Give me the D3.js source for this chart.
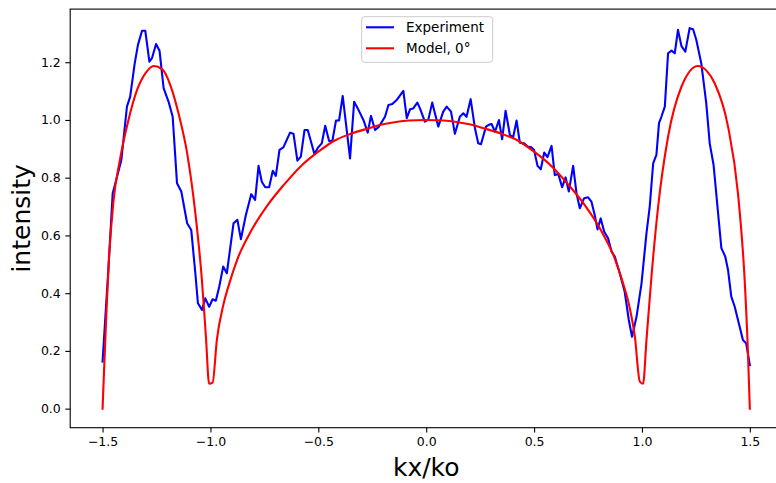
<!DOCTYPE html>
<html>
<head>
<meta charset="utf-8">
<script src="https://cdn.jsdelivr.net/npm/d3@7"></script>
<style>
  html, body { margin: 0; padding: 0; background: #fff; }
  svg { display: block; font-family: "DejaVu Sans", sans-serif; }
</style>
</head>
<body>
<svg id="chart" width="776" height="483"></svg>
<script>
// Measured angular intensity profile (kx/ko) and the model curve at 0°
const expX = [
  -1.500, -1.475, -1.453, -1.441, -1.413, -1.387, -1.372, -1.351, -1.336, -1.317,
  -1.302, -1.283, -1.271, -1.252, -1.236, -1.217, -1.194, -1.175, -1.155, -1.135,
  -1.108, -1.089, -1.070, -1.058, -1.039, -1.024, -1.006, -0.990, -0.975, -0.959,
  -0.941, -0.924, -0.893, -0.875, -0.859, -0.836, -0.811, -0.793, -0.777, -0.762,
  -0.746, -0.728, -0.711, -0.697, -0.680, -0.662, -0.631, -0.615, -0.597, -0.581,
  -0.564, -0.549, -0.518, -0.502, -0.484, -0.468, -0.450, -0.435, -0.418, -0.404,
  -0.387, -0.353, -0.334, -0.314, -0.291, -0.271, -0.256, -0.237, -0.219, -0.191,
  -0.175, -0.157, -0.137, -0.106, -0.090, -0.075, -0.060, -0.041, -0.029, -0.006,
   0.010,  0.028,  0.056,  0.079,  0.095,  0.115,  0.133,  0.156,  0.172,  0.187,
   0.206,  0.226,  0.241,  0.254,  0.277,  0.290,  0.303,  0.319,  0.337,  0.352,
   0.368,  0.388,  0.403,  0.419,  0.434,  0.454,  0.470,  0.488,  0.500,  0.516,
   0.531,  0.547,  0.562,  0.581,  0.596,  0.612,  0.630,  0.646,  0.661,  0.681,
   0.697,  0.712,  0.732,  0.750,  0.766,  0.781,  0.794,  0.809,  0.825,  0.843,
   0.859,  0.874,  0.897,  0.920,  0.939,  0.954,  0.975,  0.998,  1.021,  1.036,
   1.052,  1.067,  1.079,  1.090,  1.106,  1.121,  1.137,  1.152,  1.167,  1.183,
   1.201,  1.221,  1.237,  1.252,  1.275,  1.298,  1.314,  1.332,  1.368,  1.386,
   1.399,  1.414,  1.430,  1.468,  1.483,  1.500
];
const expY = [
  0.163, 0.460, 0.746, 0.780, 0.861, 1.046, 1.081, 1.196, 1.260, 1.309,
  1.309, 1.202, 1.214, 1.263, 1.240, 1.110, 1.063, 1.011, 0.781, 0.752,
  0.642, 0.619, 0.469, 0.365, 0.342, 0.382, 0.353, 0.379, 0.374, 0.423,
  0.492, 0.469, 0.642, 0.654, 0.587, 0.670, 0.743, 0.723, 0.841, 0.786,
  0.767, 0.767, 0.824, 0.806, 0.896, 0.905, 0.956, 0.952, 0.859, 0.873,
  0.965, 0.965, 0.882, 0.904, 0.919, 0.980, 0.927, 0.927, 0.998, 0.998,
  1.083, 0.867, 1.063, 1.035, 1.000, 0.956, 1.014, 0.965, 0.977, 1.011,
  1.052, 1.055, 1.069, 1.101, 1.006, 1.037, 1.040, 1.060, 1.040, 0.994,
  1.002, 1.060, 0.977, 1.029, 1.046, 1.029, 0.952, 1.011, 1.023, 1.011,
  1.072, 0.971, 0.919, 0.916, 0.977, 0.983, 0.986, 0.959, 1.000, 0.933,
  1.032, 0.948, 0.940, 0.998, 0.921, 0.919, 0.908, 0.905, 0.896, 0.841,
  0.829, 0.887, 0.871, 0.910, 0.809, 0.813, 0.767, 0.801, 0.752, 0.841,
  0.744, 0.694, 0.729, 0.732, 0.717, 0.671, 0.621, 0.659, 0.613, 0.590,
  0.544, 0.527, 0.469, 0.405, 0.307, 0.249, 0.319, 0.434, 0.608, 0.700,
  0.850, 0.879, 0.989, 1.011, 1.046, 1.231, 1.240, 1.231, 1.312, 1.256,
  1.237, 1.318, 1.314, 1.277, 1.196, 1.058, 0.919, 0.844, 0.556, 0.527,
  0.480, 0.388, 0.353, 0.238, 0.226, 0.151
];

const modelX = [
  -1.500, -1.490, -1.480, -1.470, -1.450, -1.420, -1.380, -1.340, -1.300, -1.263,
  -1.224, -1.186, -1.148, -1.108, -1.070, -1.040, -1.021, -1.006, -0.990, -0.970,
  -0.940, -0.910, -0.874, -0.812, -0.735, -0.660, -0.581, -0.500, -0.426, -0.350,
  -0.272, -0.200, -0.133, -0.080,  0.000,  0.080,  0.133,  0.200,  0.272,  0.350,
   0.426,  0.500,  0.581,  0.660,  0.735,  0.812,  0.874,  0.910,  0.940,  0.967,
   0.990,  1.005,  1.021,  1.044,  1.075,  1.121,  1.183,  1.260,  1.300,  1.337,
   1.399,  1.445,  1.476,  1.490,  1.500
];
const modelY = [
  0.000, 0.190, 0.370, 0.520, 0.715, 0.860, 1.000, 1.104, 1.163, 1.187,
  1.176, 1.121, 1.023, 0.885, 0.677, 0.450, 0.250, 0.086, 0.090, 0.240,
  0.360, 0.440, 0.520, 0.615, 0.705, 0.775, 0.840, 0.890, 0.928, 0.952,
  0.970, 0.985, 0.994, 0.998, 1.000, 0.998, 0.994, 0.985, 0.970, 0.952,
  0.928, 0.890, 0.840, 0.775, 0.705, 0.615, 0.520, 0.440, 0.360, 0.250,
  0.094, 0.086, 0.238, 0.457, 0.700, 0.942, 1.115, 1.187, 1.170, 1.127,
  0.977, 0.746, 0.446, 0.220, 0.000
];

const xTicks = [-1.5, -1.0, -0.5, 0.0, 0.5, 1.0, 1.5];
const yTicks = [0.0, 0.2, 0.4, 0.6, 0.8, 1.0, 1.2];
const seriesNames = ["Experiment", "Model, 0°"];
const seriesColors = ["#0000ff", "#ff0000"];

// Plot frame
const frame = { left: 70.2, right: 782.2, top: 9.1, bottom: 427.7 };

const svg = d3.select("#chart");

const x = d3.scaleLinear().domain([-1.65, 1.65]).range([frame.left, frame.right]);
const y = d3.scaleLinear().domain([-0.066, 1.384]).range([frame.bottom, frame.top]);

const fmt = v => d3.format(".1f")(v).replace("-", "\u2212");

svg.append("defs").append("clipPath").attr("id", "plotClip")
  .append("rect").attr("x", frame.left).attr("y", frame.top)
  .attr("width", frame.right - frame.left).attr("height", frame.bottom - frame.top);

const plot = svg.append("g").attr("clip-path", "url(#plotClip)");

const expData = expX.map((v, i) => [v, expY[i]]);
const modelData = modelX.map((v, i) => [v, modelY[i]]);

const lineLinear = d3.line().x(d => x(d[0])).y(d => y(d[1]));
const lineSmooth = d3.line().x(d => x(d[0])).y(d => y(d[1])).curve(d3.curveMonotoneX);

plot.append("path").datum(expData)
  .attr("d", lineLinear)
  .attr("fill", "none")
  .attr("stroke", seriesColors[0])
  .attr("stroke-width", 2.1)
  .attr("stroke-linejoin", "round")
  .attr("stroke-linecap", "square");

plot.append("path").datum(modelData)
  .attr("d", lineSmooth)
  .attr("fill", "none")
  .attr("stroke", seriesColors[1])
  .attr("stroke-width", 2.1)
  .attr("stroke-linejoin", "round")
  .attr("stroke-linecap", "square");

// Axes
const xAxis = d3.axisBottom(x).tickValues(xTicks).tickFormat(fmt)
  .tickSizeInner(4.9).tickSizeOuter(0).tickPadding(4.5);
const yAxis = d3.axisLeft(y).tickValues(yTicks).tickFormat(fmt)
  .tickSizeInner(4.9).tickSizeOuter(0).tickPadding(4.5);

const gx = svg.append("g").attr("transform", `translate(0,${frame.bottom})`).call(xAxis);
const gy = svg.append("g").attr("transform", `translate(${frame.left},0)`).call(yAxis);

[gx, gy].forEach(g => {
  g.select(".domain").remove();
  g.selectAll(".tick line").attr("stroke", "#000").attr("stroke-width", 1.1);
  g.selectAll(".tick text").attr("fill", "#000")
    .style("font-family", "'DejaVu Sans', sans-serif").style("font-size", "12.5px");
});

// Spines
svg.append("rect")
  .attr("x", frame.left).attr("y", frame.top)
  .attr("width", frame.right - frame.left).attr("height", frame.bottom - frame.top)
  .attr("fill", "none").attr("stroke", "#000").attr("stroke-width", 1.1);

// Axis labels
svg.append("text")
  .attr("x", (frame.left + frame.right) / 2).attr("y", 476)
  .attr("text-anchor", "middle")
  .style("font-size", "25px")
  .text("kx/ko");

svg.append("text")
  .attr("transform", `translate(30,${(frame.top + frame.bottom) / 2}) rotate(-90)`)
  .attr("text-anchor", "middle")
  .style("font-size", "25px")
  .text("intensity");

// Legend
const legend = svg.append("g");
legend.append("rect")
  .attr("x", 361.7).attr("y", 16.7).attr("width", 131).attr("height", 45.6)
  .attr("rx", 3).attr("ry", 3)
  .attr("fill", "#fff").attr("fill-opacity", 0.8)
  .attr("stroke", "#cccccc").attr("stroke-width", 1);

seriesNames.forEach((name, i) => {
  const ly = 27.3 + i * 21;
  legend.append("line")
    .attr("x1", 366).attr("x2", 394).attr("y1", ly).attr("y2", ly)
    .attr("stroke", seriesColors[i]).attr("stroke-width", 2.1);
  legend.append("text")
    .attr("x", 406).attr("y", ly + 5)
    .style("font-size", "13.5px")
    .attr("fill", "#000")
    .text(name);
});
</script>
</body>
</html>
